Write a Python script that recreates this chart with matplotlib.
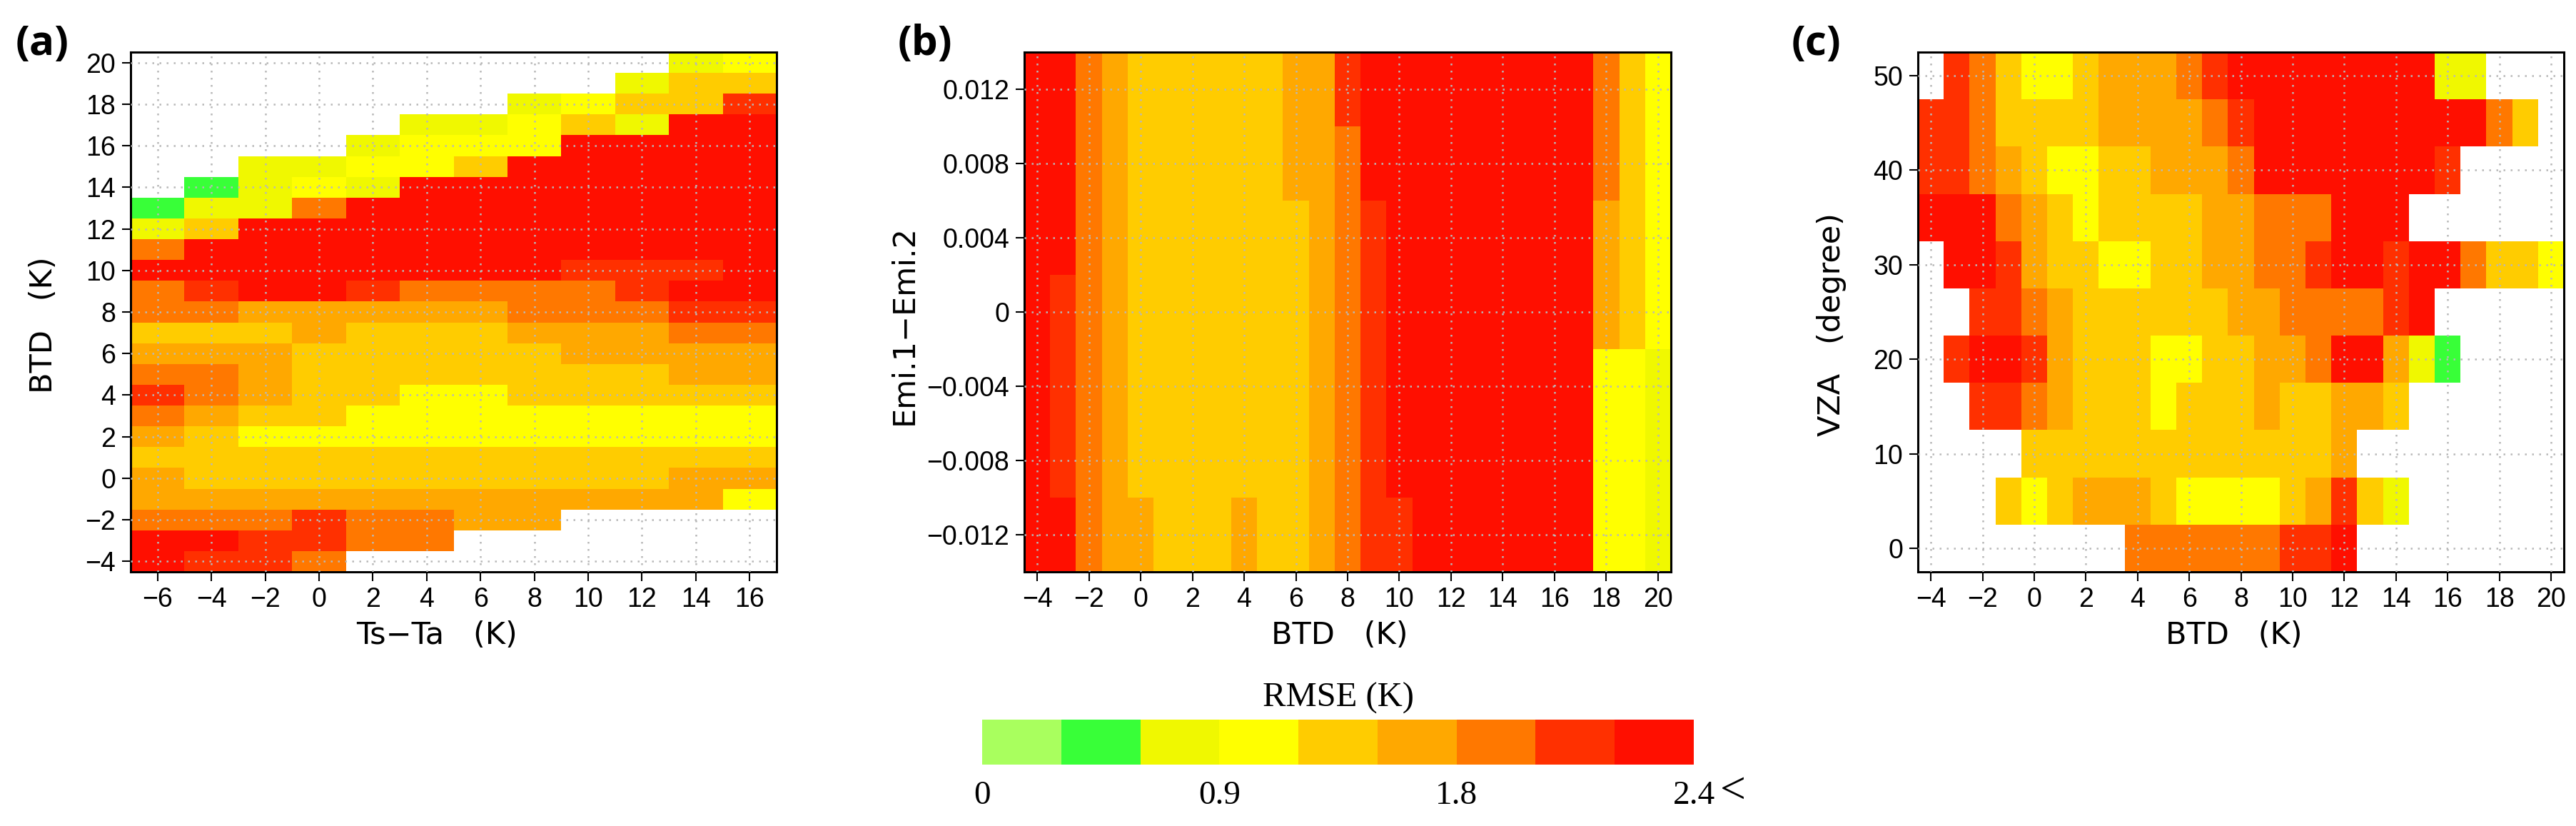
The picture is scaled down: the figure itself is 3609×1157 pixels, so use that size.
"""Three RMSE heatmaps (binned colours) with a shared colour bar below."""
import numpy as np
import matplotlib
matplotlib.use("Agg")
import matplotlib.pyplot as plt
from matplotlib.colors import BoundaryNorm, ListedColormap
from matplotlib.cm import ScalarMappable

W, H = 3609, 1157

# colour bins of the RMSE scale
bin_edges = [0, 0.3, 0.6, 0.9, 1.2, 1.5, 1.8, 2.0, 2.2, 2.4]
bin_mids = [0.15, 0.45, 0.75, 1.05, 1.35, 1.65, 1.9, 2.1, 2.3]
bin_colors = ["#a9ff5e", "#38ff38", "#f0f800", "#ffff00", "#ffcc00",
              "#ffa800", "#ff7800", "#ff3000", "#ff0f00"]
cbar_ticks = [0, 0.9, 1.8, 2.4]
cbar_ticklabels = ["0", "0.9", "1.8", "2.4"]

X = -1  # no data

# panel a: bin index per cell, first row is BTD = 20
a_x = [-6, -4, -2, 0, 2, 4, 6, 8, 10, 12, 14, 16]
a_y = list(range(20, -5, -1))
a_bins = [
    [X, X, X, X, X, X, X, X, X, X, 2, 3],
    [X, X, X, X, X, X, X, X, X, 2, 4, 4],
    [X, X, X, X, X, X, X, 2, 3, 4, 4, 7],
    [X, X, X, X, X, 2, 2, 3, 4, 2, 8, 8],
    [X, X, X, X, 2, 3, 3, 3, 8, 8, 8, 8],
    [X, X, 2, 2, 3, 3, 4, 8, 8, 8, 8, 8],
    [X, 1, 2, 3, 2, 8, 8, 8, 8, 8, 8, 8],
    [1, 2, 2, 6, 8, 8, 8, 8, 8, 8, 8, 8],
    [2, 4, 8, 8, 8, 8, 8, 8, 8, 8, 8, 8],
    [6, 8, 8, 8, 8, 8, 8, 8, 8, 8, 8, 8],
    [8, 8, 8, 8, 8, 8, 8, 8, 7, 7, 7, 8],
    [6, 7, 8, 8, 7, 6, 6, 6, 6, 7, 8, 8],
    [6, 6, 5, 5, 5, 5, 5, 6, 6, 6, 7, 7],
    [4, 4, 4, 5, 4, 4, 4, 5, 5, 5, 6, 6],
    [5, 5, 5, 4, 4, 4, 4, 4, 5, 5, 5, 5],
    [6, 6, 5, 4, 4, 4, 4, 4, 4, 4, 5, 5],
    [7, 6, 5, 4, 4, 3, 3, 4, 4, 4, 4, 4],
    [6, 5, 4, 4, 3, 3, 3, 3, 3, 3, 3, 3],
    [5, 4, 3, 3, 3, 3, 3, 3, 3, 3, 3, 3],
    [4, 4, 4, 4, 4, 4, 4, 4, 4, 4, 4, 4],
    [5, 4, 4, 4, 4, 4, 4, 4, 4, 4, 5, 5],
    [5, 5, 5, 5, 5, 5, 5, 5, 5, 5, 5, 3],
    [6, 6, 6, 7, 6, 6, 5, 5, X, X, X, X],
    [8, 8, 7, 7, 6, 6, X, X, X, X, X, X],
    [8, 7, 7, 6, X, X, X, X, X, X, X, X],
]

# panel b: first row is Emi.1-Emi.2 = 0.012, columns are BTD -4 .. 20
b_x = list(range(-4, 21))
b_y = [0.012, 0.008, 0.004, 0, -0.004, -0.008, -0.012]
b_bins = [
    [8, 8, 6, 5, 4, 4, 4, 4, 4, 4, 5, 5, 7, 8, 8, 8, 8, 8, 8, 8, 8, 8, 6, 4, 3],
    [8, 8, 6, 5, 4, 4, 4, 4, 4, 4, 5, 5, 6, 8, 8, 8, 8, 8, 8, 8, 8, 8, 6, 4, 3],
    [8, 8, 6, 5, 4, 4, 4, 4, 4, 4, 4, 5, 6, 7, 8, 8, 8, 8, 8, 8, 8, 8, 5, 4, 3],
    [8, 7, 6, 5, 4, 4, 4, 4, 4, 4, 4, 5, 6, 7, 8, 8, 8, 8, 8, 8, 8, 8, 5, 4, 3],
    [8, 7, 6, 5, 4, 4, 4, 4, 4, 4, 4, 5, 6, 7, 8, 8, 8, 8, 8, 8, 8, 8, 3, 3, 2],
    [8, 7, 6, 5, 4, 4, 4, 4, 4, 4, 4, 5, 6, 7, 8, 8, 8, 8, 8, 8, 8, 8, 3, 3, 2],
    [8, 8, 6, 5, 5, 4, 4, 4, 5, 4, 4, 5, 6, 7, 7, 8, 8, 8, 8, 8, 8, 8, 3, 3, 2],
]

# panel c: first row is VZA = 50, columns are BTD -4 .. 20
c_x = list(range(-4, 21))
c_y = [50, 45, 40, 35, 30, 25, 20, 15, 10, 5, 0]
c_bins = [
    [X, 7, 6, 4, 3, 3, 4, 5, 5, 5, 6, 7, 8, 8, 8, 8, 8, 8, 8, 8, 2, 2, X, X, X],
    [7, 7, 6, 4, 4, 4, 4, 5, 5, 5, 5, 6, 7, 8, 8, 8, 8, 8, 8, 8, 8, 8, 6, 4, X],
    [7, 7, 6, 5, 4, 3, 3, 4, 4, 5, 5, 5, 6, 8, 8, 8, 8, 8, 8, 8, 7, X, X, X, X],
    [8, 8, 8, 6, 5, 4, 3, 4, 4, 4, 4, 5, 5, 6, 6, 6, 8, 8, 8, X, X, X, X, X, X],
    [X, 8, 8, 7, 5, 4, 4, 3, 3, 4, 4, 5, 5, 6, 6, 7, 8, 8, 7, 8, 8, 6, 4, 4, 3],
    [X, X, 7, 7, 6, 5, 4, 4, 4, 4, 4, 4, 5, 5, 6, 6, 6, 6, 7, 8, X, X, X, X, X],
    [X, 7, 8, 8, 7, 5, 4, 4, 4, 3, 3, 4, 4, 5, 5, 6, 8, 8, 5, 2, 1, X, X, X, X],
    [X, X, 7, 7, 6, 5, 4, 4, 4, 3, 4, 4, 4, 5, 4, 4, 5, 5, 4, X, X, X, X, X, X],
    [X, X, X, X, 4, 4, 4, 4, 4, 4, 4, 4, 4, 4, 4, 4, 5, X, X, X, X, X, X, X, X],
    [X, X, X, 4, 3, 4, 5, 5, 5, 4, 3, 3, 3, 3, 4, 5, 7, 4, 2, X, X, X, X, X, X],
    [X, X, X, X, X, X, X, X, 6, 6, 6, 6, 6, 6, 7, 7, 8, X, X, X, X, X, X, X, X],
]

cmap = ListedColormap(bin_colors)
cmap.set_bad("white")
norm = BoundaryNorm(bin_edges, cmap.N)


def edges(centers):
    c = np.sort(np.asarray(centers, dtype=float))
    step = c[1] - c[0]
    return np.append(c - step / 2, c[-1] + step / 2)


def px_axes(fig, left, top, right, bottom):
    return fig.add_axes([left / W, 1 - bottom / H, (right - left) / W, (bottom - top) / H])


def heatmap(fig, box, xs, ys, bins, xticks, yticks, yticklabels, xlabel, xlabel_x, ylabel, ylabel_x, tag, tag_x):
    ax = px_axes(fig, *box)
    bins = np.asarray(bins)
    values = np.ma.masked_less(np.where(bins >= 0, np.asarray(bin_mids)[bins], -1.0), 0)
    # rows are listed top-down, mesh wants them bottom-up
    ax.pcolormesh(edges(xs), edges(ys), values[::-1], cmap=cmap, norm=norm)
    ax.set_xticks(xticks)
    ax.set_yticks(yticks)
    ax.set_yticklabels(yticklabels)
    ax.set_axisbelow(False)
    ax.grid(True, color="#b8b8b8", linestyle=(0, (1, 3)), linewidth=1.8)
    ax.tick_params(length=9, width=1.5, labelsize=27, pad=6)
    for lab in ax.get_xticklabels() + ax.get_yticklabels():
        lab.set_fontfamily("Liberation Sans")
    for s in ax.spines.values():
        s.set_linewidth(2.2)
    fig.text(xlabel_x / W, 1 - 890 / H, xlabel, fontsize=31, ha="center", va="center")
    fig.text(ylabel_x / W, 1 - 455 / H, ylabel, fontsize=31,
             rotation=90, ha="center", va="center")
    fig.text(tag_x / W, 1 - 62 / H, tag, fontsize=42, fontweight="bold",
             family="Open Sans", ha="left", va="center")
    return ax


def main():
    fig = plt.figure(figsize=(W / 100, H / 100), dpi=100)

    top, bottom = 73, 801
    heatmap(fig, (183, top, 1088, bottom), a_x, a_y, a_bins,
            a_x, list(range(-4, 21, 2)), [str(v).replace("-", "\u2212") for v in range(-4, 21, 2)],
            "Ts\u2212Ta   (K)", 612, "BTD   (K)", 61, "(a)", 22)

    b_ticks = [-0.012, -0.008, -0.004, 0, 0.004, 0.008, 0.012]
    b_labels = ["\u22120.012", "\u22120.008", "\u22120.004", "0", "0.004", "0.008", "0.012"]
    heatmap(fig, (1435, top, 2341, bottom), b_x, b_y, b_bins,
            list(range(-4, 21, 2)), b_ticks, b_labels,
            "BTD   (K)", 1877, "Emi.1\u2212Emi.2", 1267, "(b)", 1258)

    heatmap(fig, (2687, top, 3592, bottom), c_x, c_y, c_bins,
            list(range(-4, 21, 2)), list(range(0, 51, 10)), [str(v) for v in range(0, 51, 10)],
            "BTD   (K)", 3130, "VZA   (degree)", 2566, "(c)", 2510)

    cax = px_axes(fig, 1376, 1008, 2373, 1071)
    cb = fig.colorbar(ScalarMappable(norm=norm, cmap=cmap), cax=cax, orientation="horizontal",
                      spacing="uniform", ticks=cbar_ticks)
    cb.outline.set_visible(False)
    cb.ax.minorticks_off()
    cb.ax.tick_params(length=0, pad=16)
    cb.ax.set_xticklabels(cbar_ticklabels, fontsize=34, family="Liberation Serif")
    fig.text(2428 / W, 1 - 1110 / H, "<", fontsize=46, family="Liberation Serif",
             ha="center", va="center")
    fig.text(1875 / W, 1 - 978 / H, "RMSE (K)", fontsize=35, family="Liberation Serif",
             ha="center", va="center")

    fig.savefig("out.png", dpi=100)


if __name__ == "__main__":
    main()
